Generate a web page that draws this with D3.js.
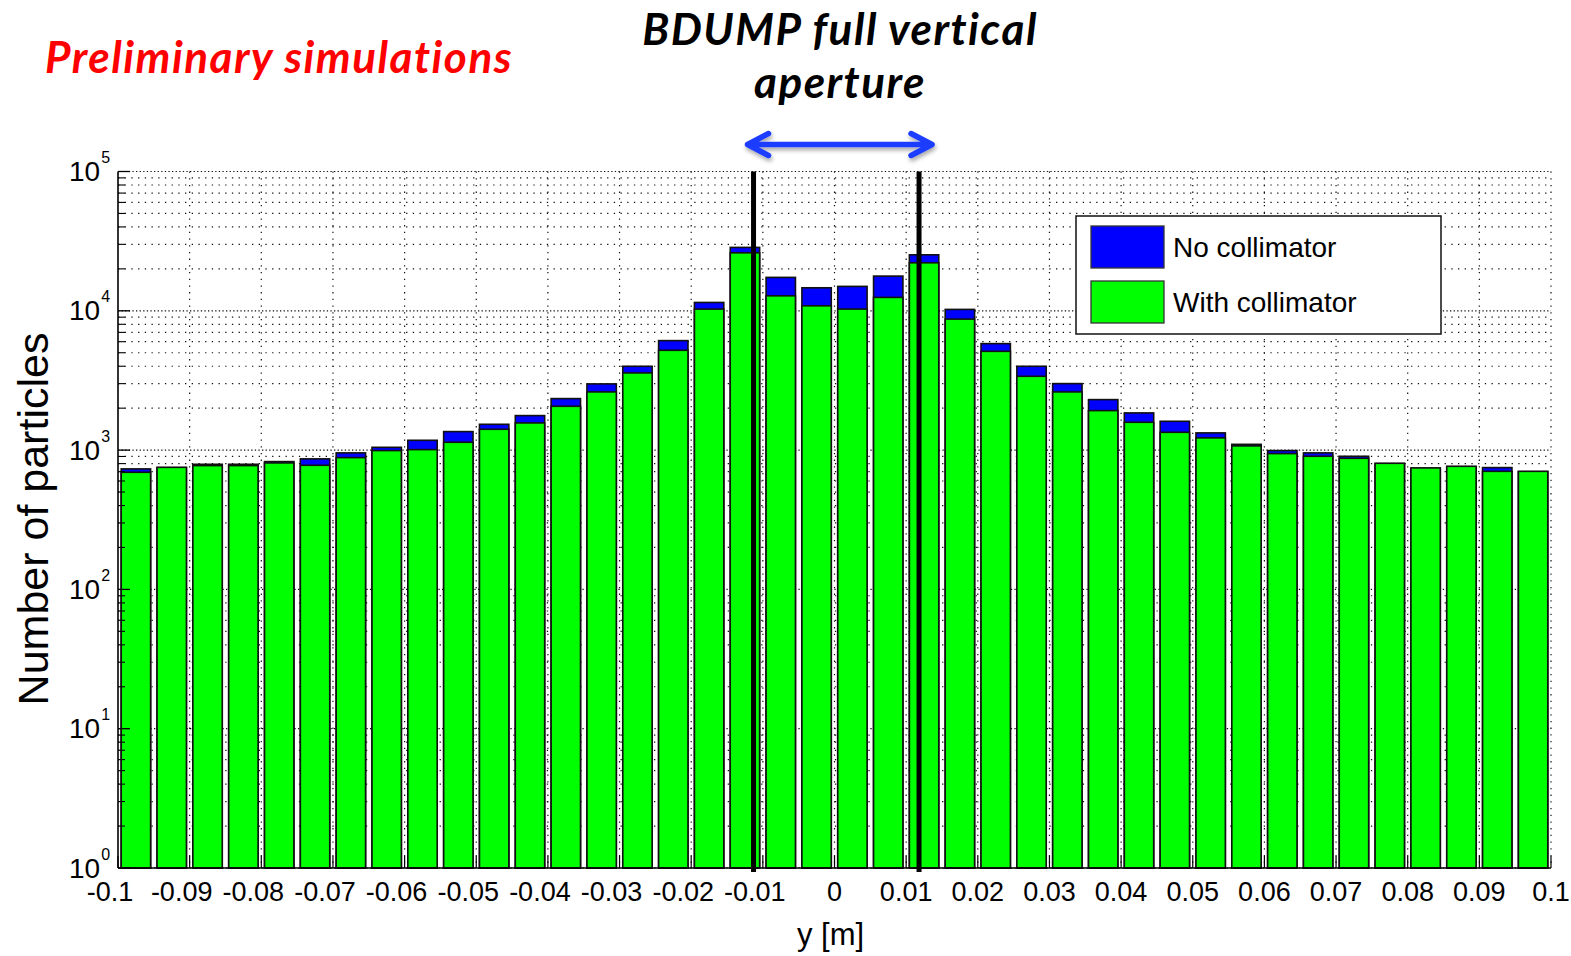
<!DOCTYPE html>
<html>
<head>
<meta charset="utf-8">
<script src="https://cdn.jsdelivr.net/npm/d3@7/dist/d3.min.js"></script>
<style>
  html, body { margin: 0; padding: 0; background: #fff; }
  svg { display: block; }
</style>
</head>
<body>
<svg id="chart" width="1571" height="956"></svg>
<script>
// Bin centres of the vertical-position histogram, y [m]
const binCenters = [
  -0.0975, -0.0925, -0.0875, -0.0825, -0.0775, -0.0725, -0.0675, -0.0625,
  -0.0575, -0.0525, -0.0475, -0.0425, -0.0375, -0.0325, -0.0275, -0.0225,
  -0.0175, -0.0125, -0.0075, -0.0025,  0.0025,  0.0075,  0.0125,  0.0175,
   0.0225,  0.0275,  0.0325,  0.0375,  0.0425,  0.0475,  0.0525,  0.0575,
   0.0625,  0.0675,  0.0725,  0.0775,  0.0825,  0.0875,  0.0925,  0.0975
];

// Particle counts per bin without the collimator
const noCollimator = [
    733,   748,   791,   791,   827,   865,   955,  1047,
   1176,  1358,  1532,  1769,  2343,  2987,  3997,  6109,
  11480, 28520, 17370, 14630, 14970, 17750, 25230, 10230,
   5814,  3997,  3002,  2304,  1849,  1610,  1329,  1100,
    992,   955,   903,   800,   740,   760,   749,   700
];

// Particle counts per bin with the collimator in place
const withCollimator = [
    693,   752,   774,   774,   809,   778,   883,   992,
   1008,  1138,  1411,  1567,  2063,  2617,  3582,  5205,
  10285, 26090, 12810, 10860, 10290, 12480, 22110,  8717,
   5117,  3387,  2617,  1921,  1584,  1342,  1224,  1072,
    944,   903,   873,   804,   745,   765,   704,   704
];

const xTicks = [-0.1, -0.09, -0.08, -0.07, -0.06, -0.05, -0.04, -0.03, -0.02, -0.01,
                0, 0.01, 0.02, 0.03, 0.04, 0.05, 0.06, 0.07, 0.08, 0.09, 0.1];
const xTickLabels = ["-0.1", "-0.09", "-0.08", "-0.07", "-0.06", "-0.05", "-0.04", "-0.03", "-0.02", "-0.01",
                     "0", "0.01", "0.02", "0.03", "0.04", "0.05", "0.06", "0.07", "0.08", "0.09", "0.1"];
const yDecades = [0, 1, 2, 3, 4, 5];

// BDUMP full vertical aperture edges, y [m]
const apertureEdges = [-0.0113, 0.0118];

const seriesNames = ["No collimator", "With collimator"];
const seriesColors = ["#0000ff", "#00ff00"];

const binWidth = 0.005;
const barFraction = 0.82;

const svg = d3.select("#chart");
const W = 1571, H = 956;
const plot = { left: 118, right: 1551, top: 171.5, bottom: 868 };

svg.append("rect").attr("width", W).attr("height", H).attr("fill", "#fff");

const x = d3.scaleLinear().domain([-0.1, 0.1]).range([plot.left, plot.right]);
const y = d3.scaleLog().domain([1, 1e5]).range([plot.bottom, plot.top]);

const defs = svg.append("defs");
const shadow = defs.append("filter").attr("id", "arrowShadow")
  .attr("x", "-10%").attr("y", "-60%").attr("width", "120%").attr("height", "260%");
shadow.append("feDropShadow")
  .attr("dx", 1).attr("dy", 3).attr("stdDeviation", 2)
  .attr("flood-color", "#000").attr("flood-opacity", 0.35);

// ---- grid (dotted), drawn beneath the bars
const grid = svg.append("g").attr("fill", "none").attr("stroke", "#111").attr("stroke-width", 1.2);

const minorVals = [];
yDecades.slice(0, -1).forEach(d => {
  for (let m = 2; m <= 9; m++) minorVals.push(m * Math.pow(10, d));
});
grid.selectAll("line.minor").data(minorVals).join("line")
  .attr("class", "minor")
  .attr("x1", plot.left).attr("x2", plot.right)
  .attr("y1", d => y(d)).attr("y2", d => y(d))
  .attr("stroke-dasharray", "1.3,5.4");
grid.selectAll("line.major").data(yDecades.map(d => Math.pow(10, d))).join("line")
  .attr("class", "major")
  .attr("x1", plot.left).attr("x2", plot.right)
  .attr("y1", d => y(d)).attr("y2", d => y(d))
  .attr("stroke-dasharray", "1.3,2.3");
grid.selectAll("line.vx").data(xTicks.slice(1)).join("line")
  .attr("class", "vx")
  .attr("x1", d => x(d)).attr("x2", d => x(d))
  .attr("y1", plot.top).attr("y2", plot.bottom)
  .attr("stroke-dasharray", "1.3,5.4");

// ---- bars: no-collimator behind, with-collimator in front
const bars = svg.append("g");
function drawSeries(values, color) {
  bars.append("g").selectAll("rect").data(binCenters).join("rect")
    .attr("x", c => x(c - binWidth * barFraction / 2))
    .attr("width", c => x(c + binWidth * barFraction / 2) - x(c - binWidth * barFraction / 2))
    .attr("y", (c, i) => y(values[i]))
    .attr("height", (c, i) => plot.bottom - y(values[i]))
    .attr("fill", color)
    .attr("stroke", "#111")
    .attr("stroke-width", 1.6);
}
drawSeries(noCollimator, seriesColors[0]);
drawSeries(withCollimator, seriesColors[1]);

// ---- axes
const axes = svg.append("g").attr("stroke", "#000");
axes.append("line").attr("x1", plot.left).attr("x2", plot.left)
  .attr("y1", plot.top).attr("y2", plot.bottom).attr("stroke-width", 1.6);
axes.append("line").attr("x1", plot.left).attr("x2", plot.right)
  .attr("y1", plot.bottom).attr("y2", plot.bottom).attr("stroke-width", 1.6);
// y ticks (inward)
axes.selectAll("line.ymaj").data(yDecades.map(d => Math.pow(10, d))).join("line")
  .attr("x1", plot.left).attr("x2", plot.left + 12)
  .attr("y1", d => y(d)).attr("y2", d => y(d)).attr("stroke-width", 1.3);
axes.selectAll("line.ymin").data(minorVals).join("line")
  .attr("x1", plot.left).attr("x2", plot.left + 7)
  .attr("y1", d => y(d)).attr("y2", d => y(d)).attr("stroke-width", 1.1);
// x ticks (inward)
axes.selectAll("line.xt").data(xTicks).join("line")
  .attr("x1", d => x(d)).attr("x2", d => x(d))
  .attr("y1", plot.bottom).attr("y2", plot.bottom - 12).attr("stroke-width", 1.2);

const tickFont = "'Liberation Sans', Arial, Helvetica, sans-serif";

// y tick labels 10^n
const yl = svg.append("g").attr("font-family", tickFont).attr("fill", "#000");
yDecades.forEach(d => {
  const t = yl.append("text")
    .attr("x", 69).attr("y", y(Math.pow(10, d)) + 9.5)
    .attr("font-size", 28);
  t.append("tspan").text("10");
  t.append("tspan").attr("font-size", 16).attr("dy", -18).attr("dx", 1).text(d);
});

// x tick labels (minus sign hangs to the left of the centred number)
svg.append("g").attr("font-family", tickFont).attr("font-size", 27).attr("fill", "#000")
  .selectAll("text").data(xTicks).join("text")
  .attr("x", (d, i) => x(d) + (xTickLabels[i].startsWith("-") ? -8 : 0))
  .attr("y", 901)
  .attr("text-anchor", "middle")
  .text((d, i) => xTickLabels[i]);

// axis titles
svg.append("text")
  .attr("x", x(0) - 4).attr("y", 945)
  .attr("text-anchor", "middle")
  .attr("font-family", tickFont).attr("font-size", 31)
  .text("y [m]");
svg.append("text")
  .attr("transform", "translate(48,519) rotate(-90)")
  .attr("text-anchor", "middle")
  .attr("font-family", tickFont).attr("font-size", 43)
  .text("Number of particles");

// ---- aperture edges
svg.append("g").selectAll("line").data(apertureEdges).join("line")
  .attr("x1", d => x(d)).attr("x2", d => x(d))
  .attr("y1", plot.top).attr("y2", plot.bottom + 4)
  .attr("stroke", "#000").attr("stroke-width", 5);

// ---- double arrow spanning the aperture
const arrowY = 144.5;
const ax1 = x(apertureEdges[0]) - 6, ax2 = x(apertureEdges[1]) + 13;
const arrow = svg.append("g")
  .attr("fill", "none").attr("stroke", "#1a3cff").attr("stroke-width", 5.5)
  .attr("stroke-linecap", "round").attr("stroke-linejoin", "round")
  .attr("filter", "url(#arrowShadow)");
arrow.append("path").attr("d",
  `M${ax1},${arrowY} L${ax2},${arrowY}
   M${ax1 + 21},${arrowY - 11} L${ax1},${arrowY} L${ax1 + 21},${arrowY + 11}
   M${ax2 - 21},${arrowY - 11} L${ax2},${arrowY} L${ax2 - 21},${arrowY + 11}`);

// ---- legend
const lg = svg.append("g");
lg.append("rect").attr("x", 1076).attr("y", 216).attr("width", 365).attr("height", 118)
  .attr("fill", "#fff").attr("stroke", "#111").attr("stroke-width", 1.5);
seriesNames.forEach((name, i) => {
  lg.append("rect").attr("x", 1091).attr("y", 226 + i * 55).attr("width", 73).attr("height", 42)
    .attr("fill", seriesColors[i]).attr("stroke", "#333").attr("stroke-width", 1.3);
  lg.append("text").attr("x", 1173).attr("y", 257 + i * 55)
    .attr("font-family", tickFont).attr("font-size", 28).attr("fill", "#000")
    .text(name);
});

// ---- headings
const headFont = "Lato, 'Open Sans', sans-serif";
svg.append("text")
  .attr("x", 45).attr("y", 73)
  .attr("font-family", headFont).attr("font-style", "italic").attr("font-weight", 700)
  .attr("font-size", 44).attr("letter-spacing", 1.5).attr("fill", "#ff0000")
  .text("Preliminary simulations");
const head2 = svg.append("text")
  .attr("text-anchor", "middle")
  .attr("font-family", headFont).attr("font-style", "italic").attr("font-weight", 700)
  .attr("font-size", 44).attr("letter-spacing", 1.5).attr("fill", "#000");
head2.append("tspan").attr("x", 840).attr("y", 45).text("BDUMP full vertical");
head2.append("tspan").attr("x", 840).attr("y", 98).text("aperture");
</script>
</body>
</html>
